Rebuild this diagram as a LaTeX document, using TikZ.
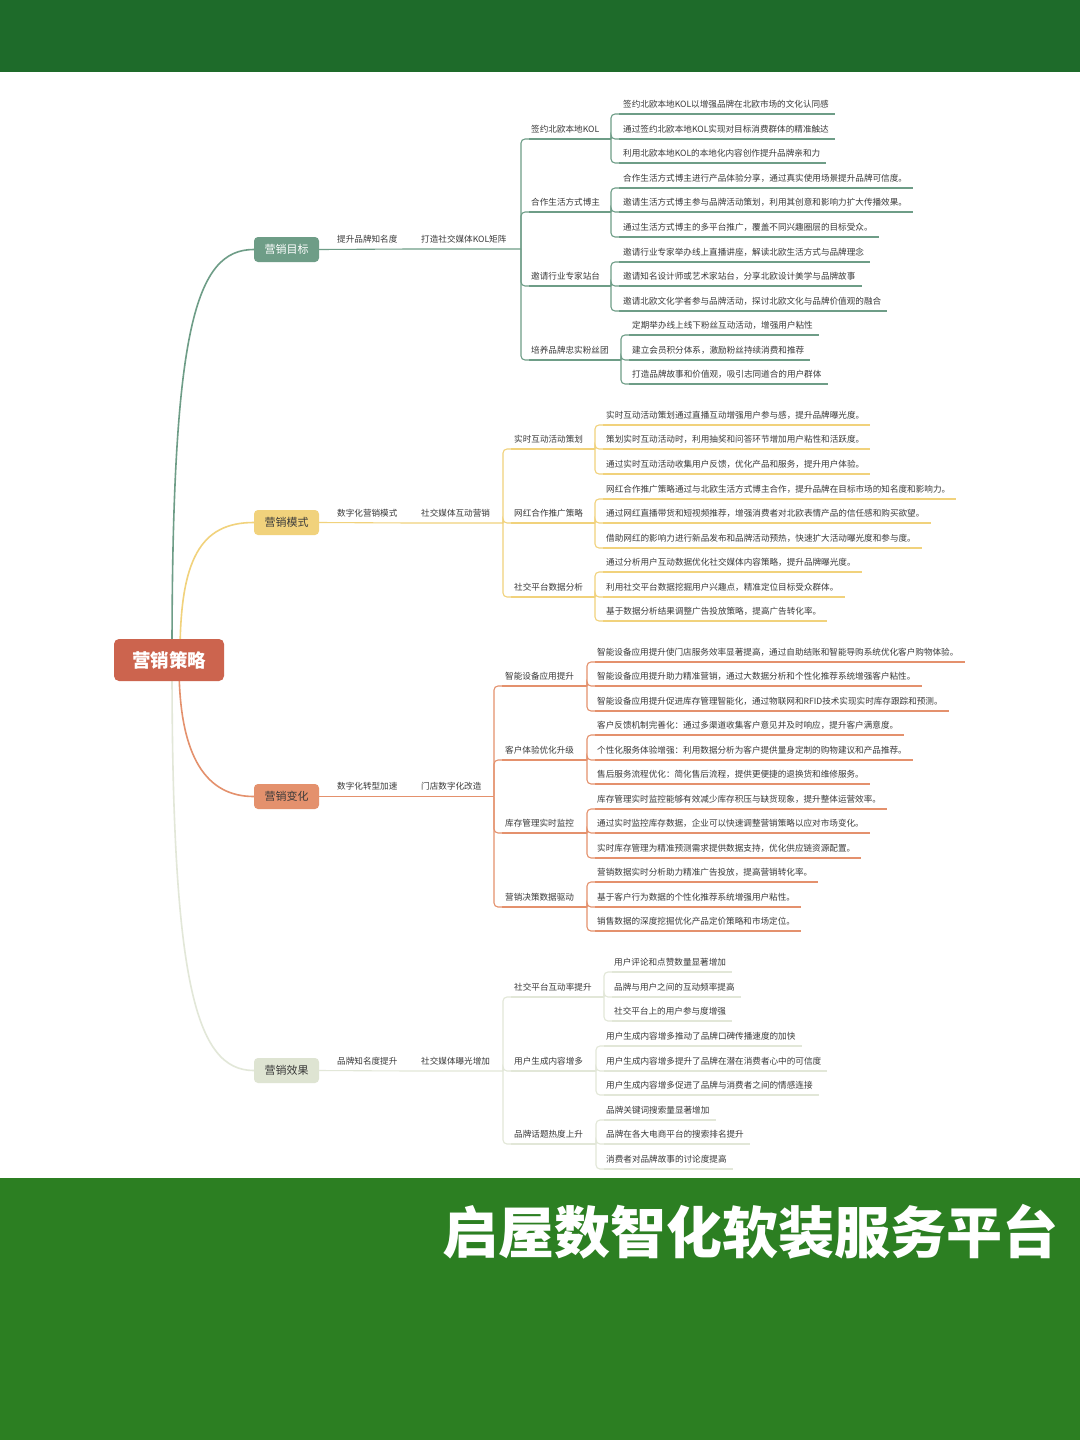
\documentclass[tikz,border=0pt]{standalone}
\usepackage{fontspec}
\setmainfont{Noto Sans CJK SC}
\usetikzlibrary{calc}
\definecolor{teal1}{HTML}{6E9D87}
\definecolor{yel1}{HTML}{F1D27C}
\definecolor{ora1}{HTML}{E4916D}
\definecolor{lig1}{HTML}{E2E7D8}
\definecolor{ligbox}{HTML}{DEE4D2}
\definecolor{rootc}{HTML}{CC644E}
\definecolor{topg}{HTML}{1E6B2A}
\definecolor{botg}{HTML}{2C7F22}
\definecolor{txtc}{HTML}{3A3A3A}
\tikzset{
  lbl/.style={inner sep=0, text=txtc, font=\fontsize{8.6}{10}\selectfont},
  ln/.style={line width=1.1pt},
  s1/.style={ln, draw=teal1},
  s2/.style={ln, draw=yel1},
  s3/.style={ln, draw=ora1},
  s4/.style={ln, draw=lig1},
  box/.style={rounded corners=4pt, minimum width=65pt, minimum height=25pt, inner sep=0, font=\fontsize{11}{13}\selectfont},
  curve/.style={line width=1.6pt},
}
% leaf: style, parent, name, bracket x, text x, underline y, text
\newcommand\Leaf[7]{%
  \node[lbl, anchor=base west] (#3) at (#5,#6-7) {#7};
  \coordinate (#3-w) at (#4+8,#6);
  \coordinate (#3-e) at ($(#3.base east)+(6,7)$);
  \draw[#1] (#3-w) -- (#3-e);
  \draw[#1, rounded corners=4pt] (#2-e) |- (#3-w);
}
% mid: style, parent, name, bracket x, text x, end x, underline y, text
\newcommand\Mid[8]{%
  \node[lbl, anchor=base west] (#3) at (#5,#7-7) {#8};
  \coordinate (#3-w) at (#4+8,#7);
  \coordinate (#3-e) at (#6,#7);
  \draw[#1] (#3-w) -- (#3-e);
  \draw[#1, rounded corners=4pt] (#2-e) |- (#3-w);
}
% chain: style, L1 node, name a, text a, name b, text b, y, bracket x
\newcommand\Chain[8]{%
  \node[lbl, anchor=base west] (#3) at (337,#7-7) {#4};
  \node[lbl, anchor=base west] (#5) at (421,#7-7) {#6};
  \coordinate (#3-e) at (411,#7);
  \coordinate (#5-e) at (#8,#7);
  \draw[#1] (#2.east) -- (#3-e) -- (#5-e);
}
\begin{document}
\begin{tikzpicture}[x=1pt,y=-1pt]
\useasboundingbox (0,0) rectangle (1080,1440);
\fill[white] (0,0) rectangle (1080,1440);
\fill[topg] (0,0) rectangle (1080,72);
\fill[botg] (0,1178) rectangle (1080,1440);
\node[font=\fontsize{56}{60}\selectfont\bfseries, text=white, inner sep=0, anchor=east] (title) at (1059,1232) {启屋数智化软装服务平台};

% level-1 boxes
\node[box, fill=teal1, text=white] (g1) at (286.5,249.5) {营销目标};
\node[box, fill=yel1, text=txtc] (g2) at (286.5,522.5) {营销模式};
\node[box, fill=ora1, text=txtc] (g3) at (286.5,796.5) {营销变化};
\node[box, fill=ligbox, text=txtc] (g4) at (286.5,1070.5) {营销效果};

% curves from root
\coordinate (r1) at (172,655);
\coordinate (r2) at (180,655);
\coordinate (r3) at (179,665);
\coordinate (r4) at (172,665);
\draw[curve, teal1] (r1) .. controls (172,330) and (195,249.5) .. (g1.west);
\draw[curve, yel1] (r2) .. controls (180,560) and (200,522.5) .. (g2.west);
\draw[curve, ora1] (r3) .. controls (179,760) and (208,796.5) .. (g3.west);
\draw[curve, lig1] (r4) .. controls (172,980) and (195,1070.5) .. (g4.west);

\node[rounded corners=5pt, fill=rootc, text=white, minimum width=110pt, minimum height=42pt, inner sep=0, font=\fontsize{18.5}{20}\selectfont\bfseries] (root) at (169,660) {营销策略};

% ===== section 1 =====
\Chain{s1}{g1}{c1a}{提升品牌知名度}{c1b}{打造社交媒体KOL矩阵}{249}{521}
\Mid{s1}{c1b}{m11}{521}{531}{611}{139}{签约北欧本地KOL}
\Leaf{s1}{m11}{l111}{611}{623}{114}{签约北欧本地KOL以增强品牌在北欧市场的文化认同感}
\Leaf{s1}{m11}{l112}{611}{623}{139}{通过签约北欧本地KOL实现对目标消费群体的精准触达}
\Leaf{s1}{m11}{l113}{611}{623}{163}{利用北欧本地KOL的本地化内容创作提升品牌亲和力}
\Mid{s1}{c1b}{m12}{521}{531}{611}{212}{合作生活方式博主}
\Leaf{s1}{m12}{l121}{611}{623}{188}{合作生活方式博主进行产品体验分享，通过真实使用场景提升品牌可信度。}
\Leaf{s1}{m12}{l122}{611}{623}{212}{邀请生活方式博主参与品牌活动策划，利用其创意和影响力扩大传播效果。}
\Leaf{s1}{m12}{l123}{611}{623}{237}{通过生活方式博主的多平台推广，覆盖不同兴趣圈层的目标受众。}
\Mid{s1}{c1b}{m13}{521}{531}{611}{286}{邀请行业专家站台}
\Leaf{s1}{m13}{l131}{611}{623}{262}{邀请行业专家举办线上直播讲座，解读北欧生活方式与品牌理念}
\Leaf{s1}{m13}{l132}{611}{623}{286}{邀请知名设计师或艺术家站台，分享北欧设计美学与品牌故事}
\Leaf{s1}{m13}{l133}{611}{623}{311}{邀请北欧文化学者参与品牌活动，探讨北欧文化与品牌价值观的融合}
\Mid{s1}{c1b}{m14}{521}{531}{621}{360}{培养品牌忠实粉丝团}
\Leaf{s1}{m14}{l141}{621}{632}{335}{定期举办线上线下粉丝互动活动，增强用户粘性}
\Leaf{s1}{m14}{l142}{621}{632}{360}{建立会员积分体系，激励粉丝持续消费和推荐}
\Leaf{s1}{m14}{l143}{621}{632}{384}{打造品牌故事和价值观，吸引志同道合的用户群体}

% ===== section 2 =====
\Chain{s2}{g2}{c2a}{数字化营销模式}{c2b}{社交媒体互动营销}{523}{503}
\Mid{s2}{c2b}{m21}{503}{514}{595}{449}{实时互动活动策划}
\Leaf{s2}{m21}{l211}{595}{606}{425}{实时互动活动策划通过直播互动增强用户参与感，提升品牌曝光度。}
\Leaf{s2}{m21}{l212}{595}{606}{449}{策划实时互动活动时，利用抽奖和问答环节增加用户粘性和活跃度。}
\Leaf{s2}{m21}{l213}{595}{606}{474}{通过实时互动活动收集用户反馈，优化产品和服务，提升用户体验。}
\Mid{s2}{c2b}{m22}{503}{514}{595}{523}{网红合作推广策略}
\Leaf{s2}{m22}{l221}{595}{606}{499}{网红合作推广策略通过与北欧生活方式博主合作，提升品牌在目标市场的知名度和影响力。}
\Leaf{s2}{m22}{l222}{595}{606}{523}{通过网红直播带货和短视频推荐，增强消费者对北欧表情产品的信任感和购买欲望。}
\Leaf{s2}{m22}{l223}{595}{606}{548}{借助网红的影响力进行新品发布和品牌活动预热，快速扩大活动曝光度和参与度。}
\Mid{s2}{c2b}{m23}{503}{514}{595}{597}{社交平台数据分析}
\Leaf{s2}{m23}{l231}{595}{606}{572}{通过分析用户互动数据优化社交媒体内容策略，提升品牌曝光度。}
\Leaf{s2}{m23}{l232}{595}{606}{597}{利用社交平台数据挖掘用户兴趣点，精准定位目标受众群体。}
\Leaf{s2}{m23}{l233}{595}{606}{621}{基于数据分析结果调整广告投放策略，提高广告转化率。}

% ===== section 3 =====
\Chain{s3}{g3}{c3a}{数字化转型加速}{c3b}{门店数字化改造}{796.5}{494}
\Mid{s3}{c3b}{m31}{494}{505}{587}{686}{智能设备应用提升}
\Leaf{s3}{m31}{l311}{587}{597}{662}{智能设备应用提升使门店服务效率显著提高，通过自助结账和智能导购系统优化客户购物体验。}
\Leaf{s3}{m31}{l312}{587}{597}{686}{智能设备应用提升助力精准营销，通过大数据分析和个性化推荐系统增强客户粘性。}
\Leaf{s3}{m31}{l313}{587}{597}{711}{智能设备应用提升促进库存管理智能化，通过物联网和RFID技术实现实时库存跟踪和预测。}
\Mid{s3}{c3b}{m32}{494}{505}{587}{760}{客户体验优化升级}
\Leaf{s3}{m32}{l321}{587}{597}{735}{客户反馈机制完善化：通过多渠道收集客户意见并及时响应，提升客户满意度。}
\Leaf{s3}{m32}{l322}{587}{597}{760}{个性化服务体验增强：利用数据分析为客户提供量身定制的购物建议和产品推荐。}
\Leaf{s3}{m32}{l323}{587}{597}{784}{售后服务流程优化：简化售后流程，提供更便捷的退换货和维修服务。}
\Mid{s3}{c3b}{m33}{494}{505}{587}{833}{库存管理实时监控}
\Leaf{s3}{m33}{l331}{587}{597}{809}{库存管理实时监控能够有效减少库存积压与缺货现象，提升整体运营效率。}
\Leaf{s3}{m33}{l332}{587}{597}{833}{通过实时监控库存数据，企业可以快速调整营销策略以应对市场变化。}
\Leaf{s3}{m33}{l333}{587}{597}{858}{实时库存管理为精准预测需求提供数据支持，优化供应链资源配置。}
\Mid{s3}{c3b}{m34}{494}{505}{587}{907}{营销决策数据驱动}
\Leaf{s3}{m34}{l341}{587}{597}{882}{营销数据实时分析助力精准广告投放，提高营销转化率。}
\Leaf{s3}{m34}{l342}{587}{597}{907}{基于客户行为数据的个性化推荐系统增强用户粘性。}
\Leaf{s3}{m34}{l343}{587}{597}{931}{销售数据的深度挖掘优化产品定价策略和市场定位。}

% ===== section 4 =====
\Chain{s4}{g4}{c4a}{品牌知名度提升}{c4b}{社交媒体曝光增加}{1071}{503}
\Mid{s4}{c4b}{m41}{503}{514}{604}{997}{社交平台互动率提升}
\Leaf{s4}{m41}{l411}{604}{614}{972}{用户评论和点赞数量显著增加}
\Leaf{s4}{m41}{l412}{604}{614}{997}{品牌与用户之间的互动频率提高}
\Leaf{s4}{m41}{l413}{604}{614}{1021}{社交平台上的用户参与度增强}
\Mid{s4}{c4b}{m42}{503}{514}{596}{1071}{用户生成内容增多}
\Leaf{s4}{m42}{l421}{596}{606}{1046}{用户生成内容增多推动了品牌口碑传播速度的加快}
\Leaf{s4}{m42}{l422}{596}{606}{1071}{用户生成内容增多提升了品牌在潜在消费者心中的可信度}
\Leaf{s4}{m42}{l423}{596}{606}{1095}{用户生成内容增多促进了品牌与消费者之间的情感连接}
\Mid{s4}{c4b}{m43}{503}{514}{596}{1144}{品牌话题热度上升}
\Leaf{s4}{m43}{l431}{596}{606}{1120}{品牌关键词搜索量显著增加}
\Leaf{s4}{m43}{l432}{596}{606}{1144}{品牌在各大电商平台的搜索排名提升}
\Leaf{s4}{m43}{l433}{596}{606}{1169}{消费者对品牌故事的讨论度提高}
\end{tikzpicture}
\end{document}
